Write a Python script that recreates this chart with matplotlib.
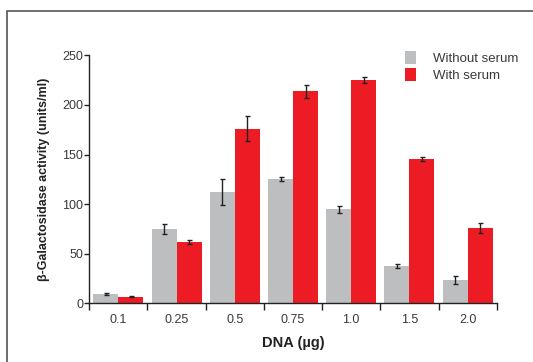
import numpy as np
import matplotlib
matplotlib.use("Agg")
import matplotlib.pyplot as plt
from matplotlib.patches import Rectangle

# values
doses = ["0.1", "0.25", "0.5", "0.75", "1.0", "1.5", "2.0"]
without_serum = [9.5, 75, 112, 125, 95, 37.5, 23.5]
without_err = [1, 5.5, 13, 2, 3.5, 2, 4]
with_serum = [6.5, 61.5, 176, 214, 225, 146, 76]
with_err = [0.5, 2, 12.5, 6.5, 3, 2, 5.5]

gray = "#BCBEC0"
red = "#ED1C24"
txt = "#3a3a3a"

plt.rcParams['font.family'] = ['Liberation Sans', 'DejaVu Sans']

fig = plt.figure(figsize=(5.33, 3.62), dpi=100)
ax = fig.add_axes([0.1675, 0.162, 0.7645, 0.685])

x = np.arange(len(doses))
w = 0.43
ekw = dict(ecolor="#222222", elinewidth=1, capsize=1.8, capthick=1)
ax.bar(x - w/2, without_serum, w, color=gray, label="Without serum",
       yerr=without_err, error_kw=ekw)
ax.bar(x + w/2, with_serum, w, color=red, label="With serum",
       yerr=with_err, error_kw=ekw)

ax.set_xlim(-0.5, len(doses) - 0.5)
ax.set_ylim(0, 250)
ax.set_yticks([0, 50, 100, 150, 200, 250])
ax.set_xticks(x)
ax.set_xticklabels(doses)
ax.set_xticks(np.arange(-0.5, len(doses)), minor=True)
ax.tick_params(axis="x", which="major", length=0, pad=8, labelsize=9, labelcolor=txt)
ax.tick_params(axis="x", which="minor", length=5, width=1, direction="out", color="#222222")
ax.tick_params(axis="y", length=3.5, width=1, pad=1, labelsize=9, labelcolor=txt, color="#222222")

for s in ["top", "right"]:
    ax.spines[s].set_visible(False)
for s in ["left", "bottom"]:
    ax.spines[s].set_color("#222222")
    ax.spines[s].set_linewidth(1)

ax.set_xlabel("DNA (µg)", fontsize=10.5, fontweight="bold", color="#222222", labelpad=7)
ax.set_ylabel("β-Galactosidase activity (units/ml)", fontsize=9, fontweight="bold",
              color="#222222", labelpad=9)

ax.legend(loc="upper right", bbox_to_anchor=(1.082, 1.065), frameon=False, fontsize=9.5,
          handlelength=0.85, handleheight=1.1, handletextpad=1.3, labelspacing=0.25,
          labelcolor=txt)

# outer frame (runs off the right and bottom edges)
fig.patches.append(Rectangle((7/533, -0.1), 1.2, 1 - 11/362 + 0.1, transform=fig.transFigure,
                             fill=False, edgecolor="#555555", linewidth=1.2))

fig.savefig("out.png", dpi=100)
